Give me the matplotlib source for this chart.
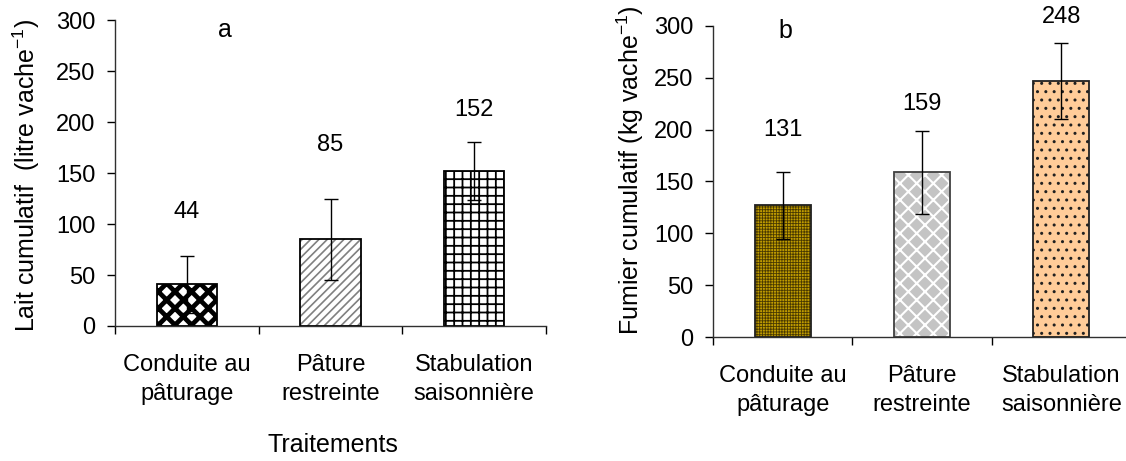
import numpy as np
import matplotlib
matplotlib.use('Agg')
import matplotlib.pyplot as plt

plt.rcParams['font.family'] = ['Liberation Sans', 'DejaVu Sans']

# données
categories = ['Conduite au\npâturage', 'Pâture\nrestreinte', 'Stabulation\nsaisonnière']

lait = [41, 85, 152]
lait_err = [28, 40, 28.5]
lait_txt = ['44', '85', '152']
lait_txt_y = [112, 177, 212]

fumier = [127, 159, 247]
fumier_err = [32.5, 40, 36.5]
fumier_txt = ['131', '159', '248']
fumier_txt_y = [200, 225, 309]

# styles des barres : (couleur de fond, motif, couleur du motif, bord, épaisseur du motif)
styles_a = [('white', 'xx', 'black', 'black', 3.4),
            ('white', '////', '#808080', 'black', 1.2),
            ('white', '++', 'black', 'black', 1.3)]
styles_b = [('#C09C00', '++++++', '#4A3A00', '#202020', 0.6),
            ('#C4C4C4', 'xx', 'white', '#404040', 1.5),
            ('#FFCC99', '..', '#202020', '#202020', 1.0)]

W, H = 1126, 461
fig = plt.figure(figsize=(W/100, H/100), dpi=100)
ax_a = fig.add_axes([115/W, 1-326/H, (546-115)/W, (326-20)/H])
ax_b = fig.add_axes([713/W, 1-337/H, (1131-713)/W, (337-26)/H])


def dessine(ax, vals, errs, styles, width):
    x = np.arange(len(vals))
    for xi, v, (fc, hatch, hc, ec, hlw) in zip(x, vals, styles):
        with plt.rc_context({'hatch.linewidth': hlw}):
            ax.bar(xi, v, width, color=fc, edgecolor=hc, hatch=hatch, linewidth=0)
        ax.bar(xi, v, width, fill=False, edgecolor=ec, linewidth=1.3)
    ax.errorbar(x, vals, yerr=errs, fmt='none', ecolor='black',
                elinewidth=1, capsize=5, capthick=1)
    ax.set_xlim(-0.5, len(vals)-0.5)
    ax.set_ylim(0, 300)
    ax.set_yticks(np.arange(0, 301, 50))
    ax.set_xticks(np.arange(len(vals)+1)-0.5)
    ax.set_xticklabels([])
    ax.set_xticks(x, minor=True)
    ax.set_xticklabels(categories, minor=True, fontsize=17, linespacing=1.45)
    ax.tick_params(axis='x', which='minor', length=0, pad=20)
    ax.tick_params(axis='x', which='major', length=6, width=1, direction='out')
    ax.tick_params(axis='y', length=6, width=1, labelsize=17, pad=8)
    for s in ['top', 'right']:
        ax.spines[s].set_visible(False)
    for s in ['left', 'bottom']:
        ax.spines[s].set_linewidth(1)
        ax.spines[s].set_color('#303030')
    return x


xa = dessine(ax_a, lait, lait_err, styles_a, 0.42)
for xi, t, ty in zip(xa, lait_txt, lait_txt_y):
    ax_a.text(xi, ty, t, ha='center', va='center', fontsize=17)
ax_a.text(0.265, 290, 'a', ha='center', va='center', fontsize=18)

xb = dessine(ax_b, fumier, fumier_err, styles_b, 0.40)
for xi, t, ty in zip(xb, fumier_txt, fumier_txt_y):
    ax_b.text(xi, ty, t, ha='center', va='center', fontsize=17, clip_on=False)
ax_b.text(0.016, 295, 'b', ha='center', va='center', fontsize=18)

fig.text(333/W, 1-445/H, 'Traitements', ha='center', va='center', fontsize=18)
fig.text(26/W, 1-175/H, 'Lait cumulatif  (litre vache$^{\\mathregular{-1}}$)',
         rotation=90, ha='center', va='center', fontsize=18)
fig.text(630/W, 1-170/H, 'Fumier cumulatif (kg vache$^{\\mathregular{-1}}$)',
         rotation=90, ha='center', va='center', fontsize=18)

fig.savefig('out.png', dpi=100)
